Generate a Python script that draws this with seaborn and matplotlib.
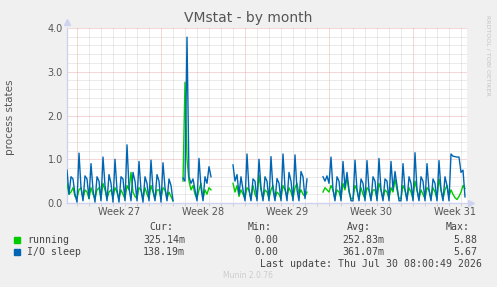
import numpy as np
import pandas as pd
import seaborn as sns
import matplotlib.pyplot as plt
from matplotlib.patches import Rectangle

nan = np.nan

# samples every 4 hours, one row = one day (6 samples)
running = [
    0.45, 0.20, 0.25, 0.35, 0.15, 0.10,
    0.30, 0.35, 0.10, 0.30, 0.25, 0.10,
    0.35, 0.20, 0.10, 0.30, 0.35, 0.10,
    0.45, 0.30, 0.10, 0.25, 0.30, 0.12,
    0.35, 0.25, 0.10, 0.30, 0.20, 0.10,
    0.40, 0.30, 0.70, 0.25, 0.15, 0.10,
    0.35, 0.30, 0.10, 0.35, 0.20, 0.10,
    0.40, 0.25, 0.10, 0.30, 0.30, 0.10,
    0.35, 0.30, 0.10, 0.25, 0.15, 0.05,
    nan, nan, nan, nan, 0.50, 2.76,
    1.00, 0.50, 0.30, 0.40, 0.20, 0.10,
    0.30, 0.45, 0.10, 0.30, 0.20, 0.35,
    0.30, nan, nan, nan, nan, nan,
    nan, nan, nan, nan, nan, 0.45,
    0.25, 0.40, 0.15, 0.30, 0.20, 0.10,
    0.35, 0.30, 0.10, 0.40, 0.20, 0.10,
    0.64, 0.30, 0.10, 0.30, 0.25, 0.10,
    0.30, 0.40, 0.10, 0.25, 0.20, 0.10,
    0.40, 0.30, 0.15, 0.35, 0.25, 0.10,
    0.35, 0.45, 0.20, 0.30, 0.20, 0.15,
    0.25, nan, nan, nan, nan, nan,
    nan, nan, 0.25, 0.35, 0.30, 0.25,
    0.40, 0.30, 0.10, 0.30, 0.25, 0.10,
    0.45, 0.30, 0.60, 0.25, 0.10, 0.10,
    0.40, 0.30, 0.10, 0.35, 0.20, 0.10,
    0.35, 0.30, 0.10, 0.30, 0.30, 0.10,
    0.45, 0.30, 0.10, 0.30, 0.25, 0.10,
    0.35, 0.25, 0.55, 0.30, 0.10, 0.10,
    0.40, 0.30, 0.10, 0.35, 0.25, 0.10,
    0.50, 0.30, 0.10, 0.30, 0.20, 0.10,
    0.35, 0.30, 0.10, 0.35, 0.25, 0.10,
    0.55, 0.30, 0.10, 0.30, 0.40, 0.15,
    0.30, 0.20, 0.12, 0.08, 0.15, 0.25,
    0.40, 0.33,
]

io_sleep = [
    0.75, 0.20, 0.60, 0.55, 0.20, 0.02,
    1.14, 0.35, 0.05, 0.62, 0.55, 0.10,
    0.90, 0.30, 0.02, 0.60, 0.50, 0.05,
    1.05, 0.40, 0.05, 0.65, 0.45, 0.02,
    1.00, 0.30, 0.02, 0.60, 0.55, 0.05,
    1.33, 0.35, 0.05, 0.70, 0.50, 0.05,
    0.95, 0.30, 0.02, 0.60, 0.45, 0.05,
    0.98, 0.30, 0.05, 0.65, 0.50, 0.02,
    0.92, 0.35, 0.05, 0.55, 0.40, 0.05,
    nan, nan, nan, nan, 0.57, 0.50,
    3.79, 0.60, 0.45, 0.55, 0.30, 0.05,
    1.02, 0.35, 0.05, 0.60, 0.45, 0.83,
    0.60, nan, nan, nan, nan, nan,
    nan, nan, nan, nan, nan, 0.87,
    0.50, 0.65, 0.20, 0.60, 0.30, 0.05,
    1.12, 0.30, 0.05, 0.55, 0.50, 0.05,
    1.00, 0.35, 0.05, 0.60, 0.50, 0.05,
    1.06, 0.30, 0.05, 0.56, 0.45, 0.05,
    1.12, 0.35, 0.05, 0.70, 0.50, 0.05,
    1.10, 0.30, 0.05, 0.72, 0.60, 0.10,
    0.55, nan, nan, nan, nan, nan,
    nan, nan, 0.60, 0.50, 0.62, 0.45,
    1.05, 0.30, 0.05, 0.60, 0.50, 0.05,
    0.95, 0.35, 0.70, 0.30, 0.05, 0.05,
    0.98, 0.30, 0.05, 0.55, 0.45, 0.05,
    0.97, 0.30, 0.05, 0.60, 0.50, 0.05,
    1.02, 0.30, 0.05, 0.55, 0.50, 0.05,
    0.95, 0.30, 0.72, 0.40, 0.05, 0.05,
    0.90, 0.30, 0.05, 0.60, 0.45, 0.05,
    1.15, 0.30, 0.05, 0.60, 0.50, 0.05,
    0.90, 0.30, 0.05, 0.55, 0.45, 0.05,
    0.97, 0.30, 0.05, 0.60, 0.40, 0.05,
    1.12, 1.07, 1.06, 1.05, 1.05, 0.70,
    0.75, 0.14,
]

week_labels = ["Week 27", "Week 28", "Week 29", "Week 30", "Week 31"]
week_starts = [20, 188, 356, 524, 692]  # hours since start of window
y_ticks = [0.0, 1.0, 2.0, 3.0, 4.0]

legend_names = ["running", "I/O sleep"]
colors = ["#00CC00", "#0066B3"]
cur = ["325.14m", "138.19m"]
mins = ["0.00", "0.00"]
avgs = ["252.83m", "361.07m"]
maxs = ["5.88", "5.67"]

W, H = 497, 287
hours = np.arange(len(running)) * 4


def long_frame(name, values):
    v = pd.Series(values, dtype=float)
    seg = v.isna().cumsum()
    df = pd.DataFrame({"hours": hours, "value": v, "series": name, "seg": seg})
    return df.dropna()


df = pd.concat([long_frame("running", running), long_frame("I/O sleep", io_sleep)])
df["unit"] = df["series"] + df["seg"].astype(str)

fig = plt.figure(figsize=(W / 100, H / 100), dpi=100, facecolor="#F0F0F0")
ax = fig.add_axes([67 / W, 1 - 203 / H, 400 / W, 175 / H], facecolor="white")


def px(x, y):
    return x / W, 1 - y / H


# grid (1px dotted, like rrdtool)
minor_c, major_c = "#d6d6d6", "#ebb0b0"
grid_kw = dict(lw=0.72, dashes=(1, 1), zorder=0)
for d in range(20, 800, 24):
    if d not in week_starts:
        ax.axvline(d, color=minor_c, **grid_kw)
for w in week_starts:
    ax.axvline(w, color=major_c, **grid_kw)
for yv in np.arange(0.2, 4.01, 0.2):
    c = major_c if abs(yv - round(yv)) < 1e-6 else minor_c
    ax.axhline(yv, color=c, **grid_kw)

sns.lineplot(data=df, x="hours", y="value", hue="series", units="unit",
             estimator=None, palette=dict(zip(legend_names, colors)),
             hue_order=legend_names, lw=1.0, legend=False, ax=ax, zorder=3)

ax.set_xlim(0, 800)
ax.set_ylim(0, 4.0)
ax.set_xticks([w + 84 for w in week_starts])
ax.set_xticklabels(week_labels)
ax.set_xticks(list(range(20, 800, 24)), minor=True)
ax.set_yticks(y_ticks)
ax.set_yticklabels([f"{t:.1f}" for t in y_ticks])
ax.tick_params(axis="both", which="major", length=0, labelsize=7, labelcolor="#555555", pad=3)
ax.tick_params(axis="x", which="minor", length=2, color="#c8c8c8")
ax.set_xlabel("")
ax.set_ylabel("")
for s in ["top", "right"]:
    ax.spines[s].set_visible(False)
for s in ["left", "bottom"]:
    ax.spines[s].set_color("#cfd3f0")
    ax.spines[s].set_linewidth(1.0)
ax.plot(0, 1.035, marker="^", ms=4, color="#cfd3f0", transform=ax.transAxes, clip_on=False)
ax.plot(1.01, 0, marker=">", ms=4, color="#cfd3f0", transform=ax.transAxes, clip_on=False)

# texts
fig.text(*px(248, 18), "VMstat - by month", ha="center", va="center", fontsize=10, color="#555555")
fig.text(*px(10, 117), "process states", ha="center", va="center", rotation=90, fontsize=7.5, color="#555555")
fig.text(*px(488, 55), "RRDTOOL / TOBI OETIKER", ha="center", va="center", rotation=270,
         fontsize=4.5, color="#c4c4c4")

mono = dict(family="DejaVu Sans Mono", fontsize=7.1, color="#444444", va="center")
for x, t in [(173, "Cur:"), (272, "Min:"), (371, "Avg:"), (470, "Max:")]:
    fig.text(*px(x, 227), t, ha="right", **mono)
for i, name in enumerate(legend_names):
    y = 240 + 12 * i
    fig.patches.append(Rectangle(px(14, y + 3), 6 / W, 6 / H, color=colors[i],
                                 transform=fig.transFigure, figure=fig))
    fig.text(*px(27, y), name, ha="left", **mono)
    fig.text(*px(185, y), cur[i], ha="right", **mono)
    fig.text(*px(278, y), mins[i], ha="right", **mono)
    fig.text(*px(384, y), avgs[i], ha="right", **mono)
    fig.text(*px(477, y), maxs[i], ha="right", **mono)
fig.text(*px(482, 264), "Last update: Thu Jul 30 08:00:49 2026", ha="right", **mono)
fig.text(*px(248, 276), "Munin 2.0.76", ha="center", va="center", fontsize=5.5, color="#cccccc")

fig.savefig("out.png", dpi=100, facecolor=fig.get_facecolor())
